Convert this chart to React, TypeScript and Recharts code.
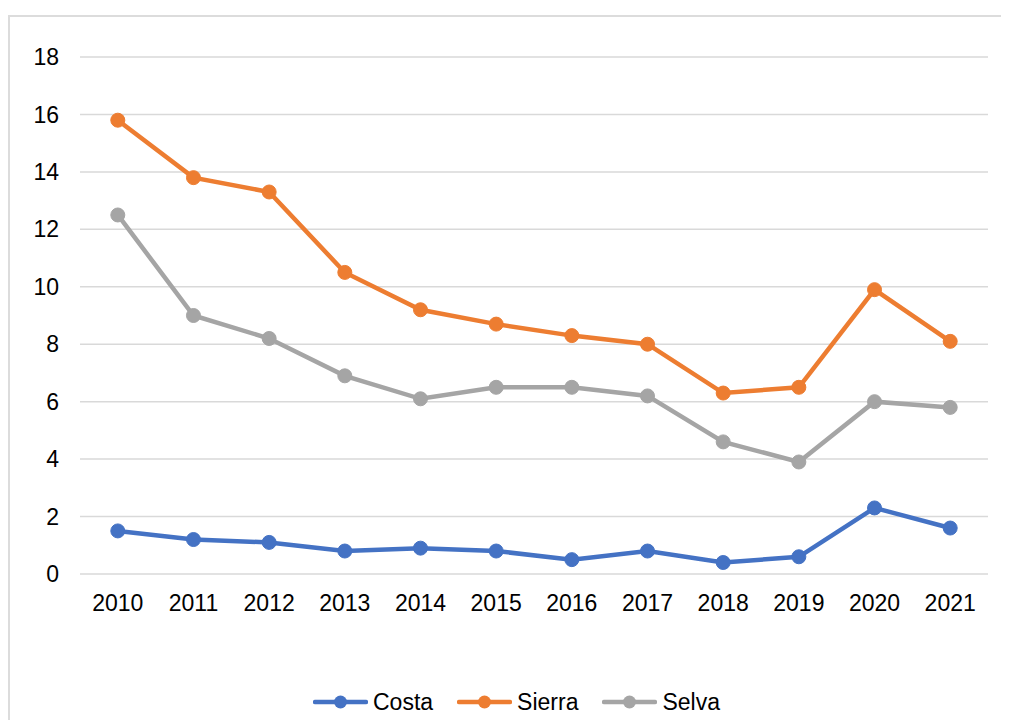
import React from 'react';
import { LineChart, Line, XAxis, YAxis, CartesianGrid, Legend } from 'recharts';

const years = ['2010', '2011', '2012', '2013', '2014', '2015', '2016', '2017', '2018', '2019', '2020', '2021'];
const costa = [1.5, 1.2, 1.1, 0.8, 0.9, 0.8, 0.5, 0.8, 0.4, 0.6, 2.3, 1.6];
const sierra = [15.8, 13.8, 13.3, 10.5, 9.2, 8.7, 8.3, 8.0, 6.3, 6.5, 9.9, 8.1];
const selva = [12.5, 9.0, 8.2, 6.9, 6.1, 6.5, 6.5, 6.2, 4.6, 3.9, 6.0, 5.8];
const yTicks = [0, 2, 4, 6, 8, 10, 12, 14, 16, 18];

const seriesInfo = [
  { key: 'Costa', color: '#4472C4' },
  { key: 'Sierra', color: '#ED7D31' },
  { key: 'Selva', color: '#A5A5A5' },
];

const data = years.map((y, i) => ({ year: y, Costa: costa[i], Sierra: sierra[i], Selva: selva[i] }));

const FONT = '"Liberation Sans", Arial, sans-serif';

const renderLegend = () => (
  <div style={{ display: 'flex', alignItems: 'center', height: 30, fontFamily: FONT, fontSize: 23, color: '#000' }}>
    {seriesInfo.map((s, i) => (
      <div key={s.key} style={{ display: 'flex', alignItems: 'center', marginRight: i < 2 ? 24 : 0 }}>
        <svg width={55} height={16} style={{ marginRight: 5 }}>
          <line x1={2} y1={8} x2={53} y2={8} stroke={s.color} strokeWidth={4.5} strokeLinecap="round" />
          <circle cx={27.5} cy={8} r={6.5} fill={s.color} />
        </svg>
        <span>{s.key}</span>
      </div>
    ))}
  </div>
);

export default function App() {
  return (
    <div style={{ position: 'relative', width: 1001, height: 712 }}>
      <div
        style={{
          position: 'absolute',
          top: 7,
          left: 0,
          width: 1001,
          height: 705,
          borderTop: '2px solid #dcdcdc',
          borderLeft: '2px solid #dcdcdc',
          boxSizing: 'border-box',
        }}
      />
      <div style={{ position: 'absolute', top: 7, left: 0 }}>
        <LineChart
          width={1001}
          height={705}
          data={data}
          margin={{ top: 42, right: 21, left: 0, bottom: 3 }}
          style={{ fontFamily: FONT }}
        >
          <CartesianGrid horizontal vertical={false} stroke="#d9d9d9" strokeWidth={1.5} />
          <XAxis
            dataKey="year"
            axisLine={false}
            tickLine={false}
            tickSize={0}
            tickMargin={21}
            height={113}
            interval={0}
            padding={{ left: 37.8, right: 37.8 }}
            tick={{ fill: '#000', fontSize: 23, fontFamily: FONT }}
          />
          <YAxis
            domain={[0, 18]}
            ticks={yTicks}
            axisLine={false}
            tickLine={false}
            tickSize={0}
            tickMargin={21}
            width={72}
            interval={0}
            tick={{ fill: '#000', fontSize: 23, fontFamily: FONT }}
          />
          {seriesInfo.map((s) => (
            <Line
              key={s.key}
              type="linear"
              dataKey={s.key}
              stroke={s.color}
              strokeWidth={4.5}
              dot={{ r: 7, fill: s.color, stroke: s.color, strokeWidth: 1 }}
              activeDot={false}
              isAnimationActive={false}
            />
          ))}
          <Legend
            verticalAlign="bottom"
            content={renderLegend}
            wrapperStyle={{ left: 305, bottom: 3, width: 500, height: 30 }}
          />
        </LineChart>
      </div>
    </div>
  );
}
